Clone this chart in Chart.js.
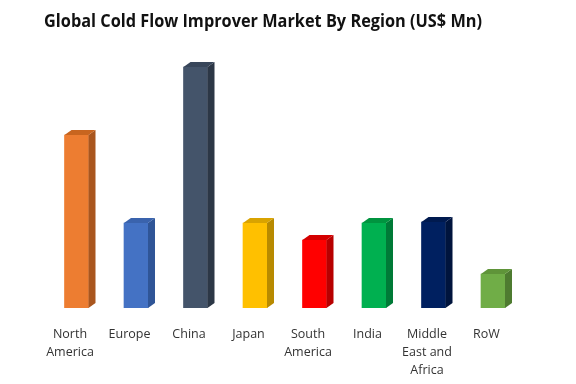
<!DOCTYPE html>
<html lang="en">
<head>
    <meta charset="UTF-8">
    <title>Global Cold Flow Improver Market By Region</title>
    <script src="https://cdn.jsdelivr.net/npm/chart.js"></script>
    <style>
        html, body { margin: 0; padding: 0; background: #fff; }
        #wrap { width: 576px; height: 384px; }
    </style>
</head>
<body>
    <div id="wrap"><canvas id="regionChart" width="576" height="384"></canvas></div>

    <script>
        // data (relative units, no axis shown)
        const regions = [['North', 'America'], ['Europe'], ['China'], ['Japan'],
                         ['South', 'America'], ['India'], ['Middle', 'East and', 'Africa'], ['RoW']];
        const marketValues = [173, 85, 241, 85, 68, 85, 86, 34];
        const titleText = 'Global Cold Flow Improver Market By Region (US$ Mn)';

        const frontColors = ['#ED7D31', '#4472C4', '#44546A', '#FFC000', '#FF0000', '#00B050', '#002060', '#70AD47'];
        const sideColors  = ['#A9561E', '#2F5597', '#2C3746', '#B88A00', '#B80000', '#007A37', '#00143D', '#4E7B30'];
        const topColors   = ['#C8651F', '#3A63AD', '#38465A', '#D9A300', '#D40000', '#00943F', '#001A4F', '#5F9439'];

        // extra faces to fake the 3D look
        const bar3d = {
            id: 'bar3d',
            afterDatasetsDraw(chart) {
                const ctx = chart.ctx;
                const dx = 7, dy = 5;
                chart.getDatasetMeta(0).data.forEach((bar, i) => {
                    const l = bar.x - bar.width / 2, r = bar.x + bar.width / 2;
                    const t = bar.y, b = bar.base;
                    ctx.save();
                    ctx.fillStyle = sideColors[i];
                    ctx.beginPath();
                    ctx.moveTo(r, t);
                    ctx.lineTo(r + dx, t - dy);
                    ctx.lineTo(r + dx, b - dy);
                    ctx.lineTo(r, b);
                    ctx.closePath();
                    ctx.fill();
                    ctx.fillStyle = topColors[i];
                    ctx.beginPath();
                    ctx.moveTo(l, t);
                    ctx.lineTo(l + dx, t - dy);
                    ctx.lineTo(r + dx, t - dy);
                    ctx.lineTo(r, t);
                    ctx.closePath();
                    ctx.fill();
                    ctx.restore();
                });
            }
        };

        // title sits a bit left of centre in the original
        const titlePlugin = {
            id: 'titleDraw',
            afterDraw(chart) {
                const ctx = chart.ctx;
                ctx.save();
                ctx.font = 'bold 18px "Open Sans", sans-serif';
                ctx.fillStyle = '#111';
                ctx.textBaseline = 'alphabetic';
                const w = ctx.measureText(titleText).width;
                const sx = 438 / w;
                ctx.translate(44, 27);
                ctx.scale(sx, 1);
                ctx.fillText(titleText, 0, 0);
                ctx.restore();
            }
        };

        new Chart(document.getElementById('regionChart'), {
            type: 'bar',
            data: {
                labels: regions,
                datasets: [{
                    label: 'US$ Mn',
                    data: marketValues,
                    backgroundColor: frontColors,
                    borderWidth: 0,
                    barThickness: 24
                }]
            },
            options: {
                responsive: false,
                animation: false,
                layout: { padding: { top: 58, left: 46.75, right: 53.25, bottom: 0 } },
                plugins: {
                    legend: { display: false },
                    title: { display: false },
                    tooltip: { enabled: false }
                },
                scales: {
                    x: {
                        grid: { display: false, drawTicks: false },
                        border: { display: false },
                        ticks: {
                            color: '#333',
                            font: { family: '"Open Sans", sans-serif', size: 12.5, lineHeight: 1.45 },
                            padding: 17,
                            labelOffset: -6.5,
                            maxRotation: 0,
                            autoSkip: false
                        },
                        afterFit: scale => { scale.height = 76; }
                    },
                    y: {
                        display: false,
                        min: 0,
                        max: 250
                    }
                }
            },
            plugins: [bar3d, titlePlugin]
        });
    </script>
</body>
</html>
